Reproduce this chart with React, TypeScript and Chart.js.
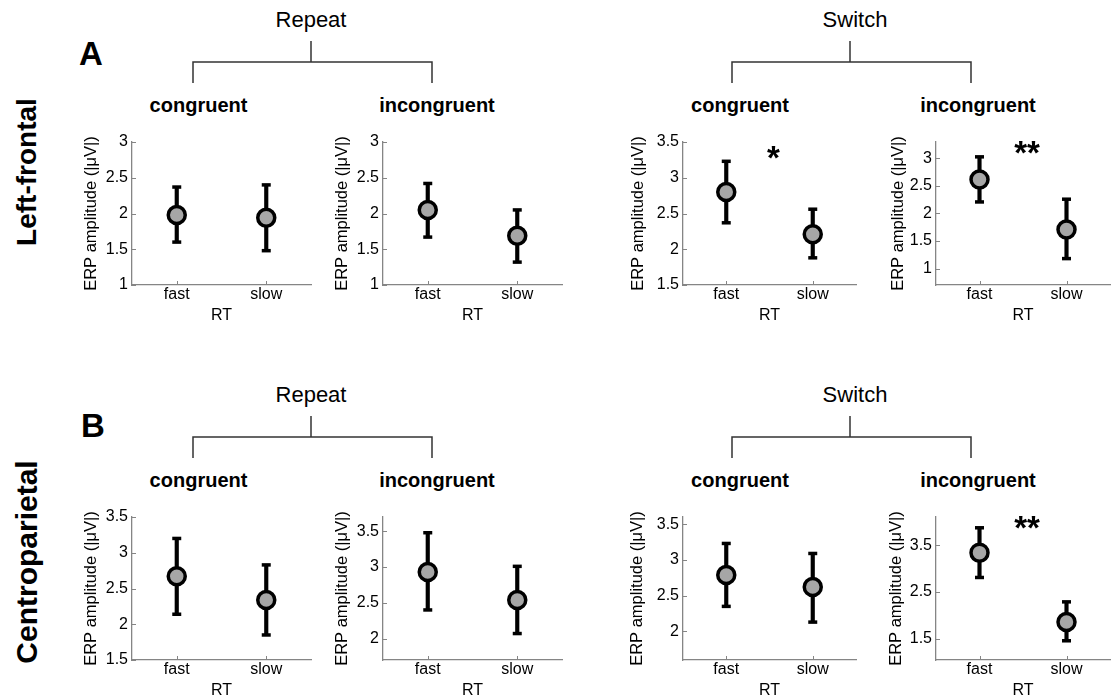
import React, { useEffect, useRef } from 'react';
import { Chart, registerables } from 'chart.js';

Chart.register(...registerables);

// ---------- data ----------
const rtLabels = ['fast', 'slow'];
const taskLabels = ['Repeat', 'Switch'];
const conditionLabels = ['congruent', 'incongruent', 'congruent', 'incongruent'];
const regionLabels = ['Left-frontal', 'Centroparietal'];
const panelLetters = ['A', 'B'];
const yTitle = 'ERP amplitude (|\u03bcV|)';
const xTitle = 'RT';

// Left-frontal (row A): Repeat-congruent, Repeat-incongruent, Switch-congruent, Switch-incongruent
const frontalMean = [[1.98, 1.94], [2.05, 1.69], [2.80, 2.21], [2.62, 1.71]];
const frontalUpper = [[2.37, 2.40], [2.42, 2.05], [3.23, 2.56], [3.03, 2.26]];
const frontalLower = [[1.60, 1.48], [1.67, 1.32], [2.37, 1.88], [2.21, 1.18]];
const frontalYMin = [1, 1, 1.5, 0.7];
const frontalYMax = [3, 3, 3.5, 3.3];
const frontalTicks = [[1, 1.5, 2, 2.5, 3], [1, 1.5, 2, 2.5, 3], [1.5, 2, 2.5, 3, 3.5], [1, 1.5, 2, 2.5, 3]];
const frontalStars = ['', '', '*', '**'];

// Centroparietal (row B)
const parietalMean = [[2.67, 2.34], [2.93, 2.54], [2.79, 2.62], [3.34, 1.86]];
const parietalUpper = [[3.20, 2.83], [3.48, 3.01], [3.23, 3.09], [3.87, 2.29]];
const parietalLower = [[2.14, 1.85], [2.40, 2.07], [2.35, 2.13], [2.81, 1.46]];
const parietalYMin = [1.5, 1.7, 1.6, 1.05];
const parietalYMax = [3.5, 3.7, 3.6, 4.1];
const parietalTicks = [[1.5, 2, 2.5, 3, 3.5], [2, 2.5, 3, 3.5], [2, 2.5, 3, 3.5], [1.5, 2.5, 3.5]];
const parietalStars = ['', '', '', '**'];

// ---------- layout ----------
const FONT = '"Liberation Sans", Arial, Helvetica, sans-serif';
const colAxisX = [132, 383, 683, 936];
const colPlotW = [183, 183, 177, 178];
const rowPlotTop = [142, 517];
const plotH = 143;
const yGaps = [[40, 40, 44, 37], [40, 40, 45, 39]];
const AXIS_GRAY = '#858585';

type PanelProps = {
  left: number; top: number; plotW: number; yGap: number;
  mean: number[]; upper: number[]; lower: number[];
  yMin: number; yMax: number; yTicks: number[]; star: string;
};

function Panel(p: PanelProps) {
  const ref = useRef<HTMLCanvasElement>(null);
  const padTop = 26, padRight = 8, xH = 43;
  const yW = p.yGap + 14;
  const W = yW + p.plotW + padRight;
  const H = padTop + plotH + xH;

  useEffect(() => {
    if (!ref.current) return;
    const decor = {
      id: 'decor',
      afterDatasetsDraw(chart: any) {
        const { ctx, chartArea, scales } = chart;
        const xs = scales.x, ys = scales.y;
        ctx.save();
        ctx.strokeStyle = AXIS_GRAY;
        ctx.lineWidth = 1;
        ctx.beginPath();
        p.yTicks.forEach((v) => {
          const y = Math.round(ys.getPixelForValue(v)) + 0.5;
          ctx.moveTo(chartArea.left, y);
          ctx.lineTo(chartArea.left + 4, y);
        });
        rtLabels.forEach((_, i) => {
          const x = Math.round(xs.getPixelForValue(i)) + 0.5;
          ctx.moveTo(x, chartArea.bottom);
          ctx.lineTo(x, chartArea.bottom - 4);
        });
        ctx.stroke();
        if (p.star) {
          const x = (xs.getPixelForValue(0) + xs.getPixelForValue(1)) / 2 + 4;
          const off = p.star.length === 1 ? 8 : 3;
          ctx.fillStyle = '#000';
          ctx.font = `bold 33px ${FONT}`;
          ctx.textAlign = 'center';
          ctx.textBaseline = 'alphabetic';
          ctx.fillText(p.star, x, chartArea.top + off + 19);
        }
        ctx.restore();
      },
    };

    const chart = new Chart(ref.current, {
      type: 'bar',
      data: {
        labels: rtLabels,
        datasets: [
          {
            type: 'line', data: p.mean, showLine: false, order: 0,
            pointRadius: 8.5, pointBorderWidth: 3.5,
            pointBackgroundColor: '#a6a6a6', pointBorderColor: '#000',
          } as any,
          {
            type: 'line', data: p.upper, showLine: false, order: 1,
            pointStyle: 'line', pointRadius: 4.5, pointBorderWidth: 3.5, pointBorderColor: '#000',
          } as any,
          {
            type: 'line', data: p.lower, showLine: false, order: 1,
            pointStyle: 'line', pointRadius: 4.5, pointBorderWidth: 3.5, pointBorderColor: '#000',
          } as any,
          {
            type: 'bar', data: p.mean.map((_, i) => [p.lower[i], p.upper[i]]), order: 2,
            barThickness: 3.5, backgroundColor: '#000', borderWidth: 0,
          } as any,
        ],
      },
      options: {
        responsive: false,
        animation: false,
        events: [],
        layout: { padding: { top: padTop, right: padRight, left: 0, bottom: 0 } },
        plugins: { legend: { display: false }, tooltip: { enabled: false } },
        scales: {
          x: {
            type: 'category', offset: true,
            grid: { display: false, drawTicks: false },
            border: { display: true, color: AXIS_GRAY, width: 1.3 },
            ticks: { color: '#000', font: { family: FONT, size: 16 }, padding: 0 },
            title: { display: true, text: xTitle, color: '#000', font: { family: FONT, size: 16 }, padding: { top: 0, bottom: 3 } },
            afterFit: (s: any) => { s.height = xH; },
          },
          y: {
            type: 'linear', min: p.yMin, max: p.yMax, bounds: 'data',
            grid: { display: false, drawTicks: false },
            border: { display: true, color: AXIS_GRAY, width: 1.3 },
            ticks: { color: '#000', font: { family: FONT, size: 16 }, padding: 4, callback: (v: any) => String(v) },
            afterBuildTicks: (s: any) => { s.ticks = p.yTicks.map((v) => ({ value: v })); },
            title: { display: true, text: yTitle, color: '#000', font: { family: FONT, size: 16.5 }, padding: { top: 4, bottom: 0 } },
            afterFit: (s: any) => { s.width = yW; },
          },
        },
      } as any,
      plugins: [decor],
    });
    return () => chart.destroy();
  }, []);

  return (
    <canvas
      ref={ref}
      width={W}
      height={H}
      style={{ position: 'absolute', left: p.left - yW, top: p.top - padTop, width: W, height: H }}
    />
  );
}

function Txt({ x, y, size, bold, children }: { x: number; y: number; size: number; bold?: boolean; children: React.ReactNode }) {
  // y is the baseline
  return (
    <div
      style={{
        position: 'absolute', left: x, top: y - 0.8465 * size, transform: 'translateX(-50%)',
        fontFamily: FONT, fontSize: size, lineHeight: `${size}px`, fontWeight: bold ? 700 : 400,
        whiteSpace: 'nowrap', color: '#000',
      }}
    >
      {children}
    </div>
  );
}

function VTxt({ baseX, cy, size, children }: { baseX: number; cy: number; size: number; children: React.ReactNode }) {
  const cx = baseX - 0.3465 * size;
  return (
    <div
      style={{
        position: 'absolute', left: cx, top: cy, transform: 'translate(-50%, -50%) rotate(-90deg)',
        fontFamily: FONT, fontSize: size, lineHeight: `${size}px`, fontWeight: 700,
        whiteSpace: 'nowrap', color: '#000',
      }}
    >
      {children}
    </div>
  );
}

const rowShift = [0, 375];
const bracketX = [[193, 311, 432], [732, 850, 971]];
const taskTextX = [311, 855];
const titleX = [198.5, 437, 740, 978];
const regionCY = [172, 562];
const regionSize = [28, 30];

export default function App() {
  const rows = [
    { mean: frontalMean, upper: frontalUpper, lower: frontalLower, ymin: frontalYMin, ymax: frontalYMax, ticks: frontalTicks, stars: frontalStars },
    { mean: parietalMean, upper: parietalUpper, lower: parietalLower, ymin: parietalYMin, ymax: parietalYMax, ticks: parietalTicks, stars: parietalStars },
  ];
  return (
    <div style={{ position: 'absolute', left: 0, top: 0, width: 1118, height: 696, background: '#fff', overflow: 'hidden' }}>
      <svg width={1118} height={696} style={{ position: 'absolute', left: 0, top: 0 }}>
        {rowShift.map((dy, r) =>
          bracketX.map(([a, m, b], t) => (
            <g key={`${r}-${t}`} stroke="#333" strokeWidth={1.5} fill="none">
              <line x1={m} y1={41 + dy} x2={m} y2={62 + dy} />
              <polyline points={`${a},${83 + dy} ${a},${62 + dy} ${b},${62 + dy} ${b},${83 + dy}`} />
            </g>
          ))
        )}
      </svg>
      {rowShift.map((dy, r) => (
        <React.Fragment key={`t${r}`}>
          <Txt x={91 + r * 2} y={65 + dy - (r === 1 ? 3 : 0)} size={33} bold>{panelLetters[r]}</Txt>
          {taskLabels.map((t, i) => (
            <Txt key={t} x={taskTextX[i]} y={28 + dy} size={22}>{t}</Txt>
          ))}
          {conditionLabels.map((c, i) => (
            <Txt key={i} x={titleX[i]} y={112 + dy} size={20} bold>{c}</Txt>
          ))}
          <VTxt baseX={37} cy={regionCY[r]} size={regionSize[r]}>{regionLabels[r]}</VTxt>
        </React.Fragment>
      ))}
      {rows.map((row, r) =>
        colAxisX.map((ax, c) => (
          <Panel
            key={`${r}-${c}`}
            left={ax}
            top={rowPlotTop[r]}
            plotW={colPlotW[c]}
            yGap={yGaps[r][c]}
            mean={row.mean[c]}
            upper={row.upper[c]}
            lower={row.lower[c]}
            yMin={row.ymin[c]}
            yMax={row.ymax[c]}
            yTicks={row.ticks[c]}
            star={row.stars[c]}
          />
        ))
      )}
    </div>
  );
}
